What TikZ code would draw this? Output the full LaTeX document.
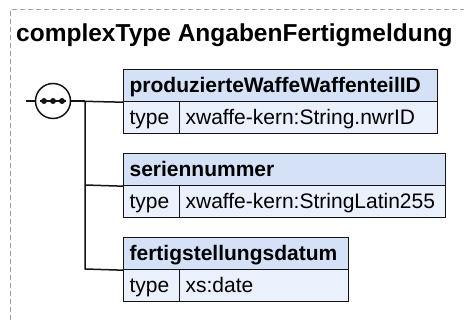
\documentclass[tikz,border=0pt]{standalone}
\usepackage{fontspec}
\setmainfont{Liberation Sans}
\usetikzlibrary{calc}
\definecolor{hdrfill}{RGB}{212,225,247}
\definecolor{rowfill}{RGB}{234,240,252}
\definecolor{framegray}{RGB}{160,160,160}
\definecolor{edge}{RGB}{20,20,20}
\begin{document}
\begin{tikzpicture}[x=1pt,y=-1pt,
  cell/.style={draw=edge, line width=1.2pt, rectangle, anchor=north west,
    minimum height=32pt, inner xsep=6pt, inner ysep=0pt, align=left,
    text height=16.5pt, text depth=3.5pt, font=\fontsize{21pt}{24pt}\selectfont},
  hdr/.style={cell, fill=hdrfill, font=\bfseries\fontsize{21pt}{24pt}\selectfont},
  lbl/.style={cell, fill=rowfill, text width=44pt},
  val/.style={cell, fill=rowfill},
  conn/.style={draw=edge, line width=1.5pt},
  frame/.style={draw=framegray, line width=1pt, dash pattern=on 5pt off 3pt}
]
\useasboundingbox (0,0) rectangle (464,320);
\draw[frame] (10,320) -- (10,10) -- (464,10);
\node[anchor=base west, inner sep=0pt, font=\bfseries\fontsize{24.5pt}{28pt}\selectfont] (title) at (16,42) {complexType AngabenFertigmeldung};

% element boxes
\node[hdr, text width=302pt] (h1) at (123,69) {produzierteWaffeWaffenteilID};
\node[lbl] (t1) at (123,101) {type};
\node[val, text width=246pt] (v1) at (179,101) {xwaffe-kern:String.nwrID};

\node[hdr, text width=310pt] (h2) at (123,153) {seriennummer};
\node[lbl] (t2) at (123,185) {type};
\node[val, text width=254pt] (v2) at (179,185) {xwaffe-kern:StringLatin255};

\node[hdr, text width=213pt] (h3) at (123,237) {fertigstellungsdatum};
\node[lbl] (t3) at (123,269) {type};
\node[val, text width=157pt] (v3) at (179,269) {xs:date};

% sequence compositor
\coordinate (in) at (26,101);
\coordinate (j1) at (85,101);
\coordinate (j2) at (85,185);
\coordinate (j3) at (85,269);
\draw[conn] (in) -- (j1);
\node[circle, draw=edge, line width=1.5pt, fill=white, minimum size=35pt, inner sep=0pt] (seq) at (53,101) {};
\coordinate (d1) at (44,101);
\coordinate (d3) at (62,101);
\draw[conn] ($(seq.center)+(-13,0)$) -- ($(seq.center)+(13,0)$);
\fill[edge] (d1) circle (3pt) (seq.center) circle (3pt) (d3) circle (3pt);
\draw[conn] (seq.east) -- (h1.south west);
\draw[conn] (j1) -- (j3) -- (h3.south west);
\draw[conn] (j2) -- (h2.south west);
\end{tikzpicture}
\end{document}
